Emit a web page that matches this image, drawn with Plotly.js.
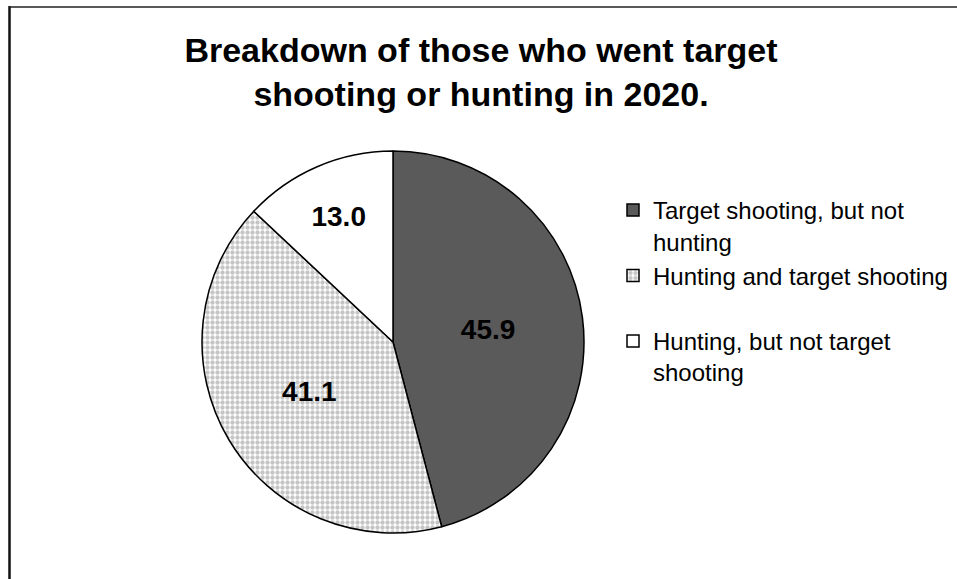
<!DOCTYPE html>
<html>
<head>
<meta charset="utf-8">
<script src="https://cdn.plot.ly/plotly-3.0.1.min.js"></script>
<style>
  body { margin: 0; background: #fff; }
  #graph { width: 957px; height: 579px; }
</style>
</head>
<body>
<div id="graph"></div>
<script>
// categories and values (percent)
var categories = [
    "Target shooting, but not<br>hunting",
    "Hunting and target shooting<br> ",
    "Hunting, but not target<br>shooting"
];
var shares = [45.9, 41.1, 13.0];

// slice fills: dark grey, speckled light grey, white
var sliceColors = ["#5a5a5a", "#ffffff", "#ffffff"];
var slicePatterns = ["", ".", ""];

var chartTitle = "Breakdown of those who went target<br>shooting or hunting in 2020.";

function drawGraph() {
    var W = 957, H = 579;

    var trace = {
        type: "pie",
        labels: categories,
        values: shares,
        sort: false,
        direction: "clockwise",
        rotation: 0,
        domain: { x: [202 / W, 584 / W], y: [(H - 533) / H, (H - 151) / H] },
        marker: {
            colors: sliceColors,
            line: { color: "#000", width: 1.5 },
            pattern: { shape: slicePatterns, fillmode: "overlay", fgcolor: "#8c8c8c", size: 5, solidity: 0.6 }
        },
        textinfo: "value",
        texttemplate: "%{value:.1f}",
        textposition: "inside",
        insidetextorientation: "horizontal",
        textfont: { family: "Liberation Sans, Arial, sans-serif", size: 28, color: "#000", weight: "bold" },
        hoverinfo: "none"
    };

    var layout = {
        width: W,
        height: H,
        margin: { l: 0, r: 0, t: 0, b: 0 },
        paper_bgcolor: "#fff",
        font: { family: "Liberation Sans, Arial, sans-serif", color: "#000" },
        title: {
            text: chartTitle,
            font: { size: 34, weight: "bold", color: "#000" },
            x: 481 / W,
            xanchor: "center",
            xref: "container",
            y: 1 - 62 / H,
            yanchor: "top",
            yref: "container"
        },
        showlegend: true,
        legend: {
            x: 613 / W,
            xanchor: "left",
            y: 1 - 188 / H,
            yanchor: "top",
            valign: "top",
            font: { size: 24, color: "#000" },
            bgcolor: "rgba(0,0,0,0)",
            itemclick: false,
            itemdoubleclick: false
        },
        // chart frame (left and top edges visible in the original)
        shapes: [
            { type: "line", xref: "paper", yref: "paper", x0: 9.5 / W, x1: 9.5 / W, y0: 0, y1: 1 - 6 / H,
              line: { color: "#111", width: 2.5 } },
            { type: "line", xref: "paper", yref: "paper", x0: 9 / W, x1: 1, y0: 1 - 7 / H, y1: 1 - 7 / H,
              line: { color: "#222", width: 1.5 } }
        ]
    };

    Plotly.newPlot("graph", [trace], layout, { displayModeBar: false, staticPlot: true });
}

drawGraph();
</script>
</body>
</html>
